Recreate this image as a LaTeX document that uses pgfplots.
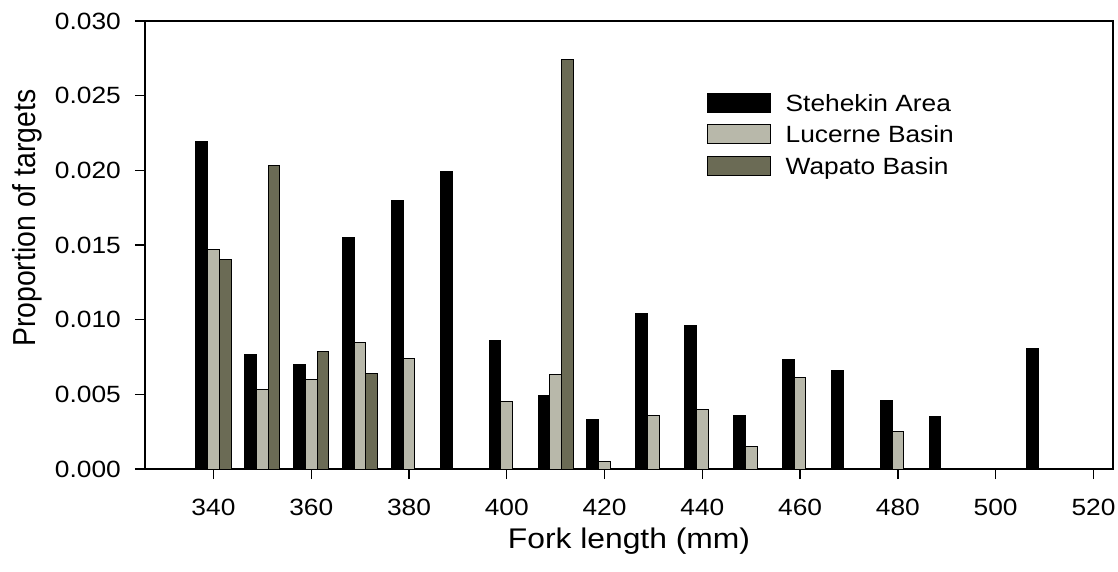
\documentclass[border=0pt]{standalone}
\usepackage{fontspec}
\setmainfont{Liberation Sans}
\usepackage{graphicx}
\usepackage{pgfplots}
\usepackage{pgfplotstable}
\pgfplotsset{compat=1.18}

\definecolor{lucerne}{RGB}{184,184,170}
\definecolor{wapato}{RGB}{107,107,85}
\newcommand{\wide}[1]{\scalebox{1.12}[1]{#1}}

% Proportion of targets per 10 mm fork-length bin
\pgfplotstableread{
len prop
340 0.0219
350 0.0077
360 0.0070
370 0.0155
380 0.0180
390 0.0199
400 0.0086
410 0.0049
420 0.0033
430 0.0104
440 0.0096
450 0.0036
460 0.0073
470 0.0066
480 0.0046
490 0.0035
510 0.0081
}\stehekin
\pgfplotstableread{
len prop
340 0.0147
350 0.0053
360 0.0060
370 0.0085
380 0.0074
400 0.0045
410 0.0063
420 0.0005
430 0.0036
440 0.0040
450 0.0015
460 0.0061
480 0.0025
}\lucerne
\pgfplotstableread{
len prop
340 0.0140
350 0.0203
360 0.0079
370 0.0064
410 0.0274
}\wapato

\begin{document}
\begin{tikzpicture}
\begin{axis}[
  scale only axis, width=968pt, height=448pt,
  xmin=326, xmax=524, ymin=0, ymax=0.030,
  axis line style={line width=1.4pt},
  xtick={340,360,380,400,420,440,460,480,500,520},
  ytick={0,0.005,0.010,0.015,0.020,0.025,0.030},
  scaled y ticks=false,
  tick align=outside, xtick pos=bottom, ytick pos=left,
  major tick length=10pt,
  tick style={line width=1.4pt, black},
  /pgf/number format/assume math mode=true,
  tick label style={font=\fontsize{23.5}{28}\selectfont},
  xticklabel={\wide{\pgfmathprintnumber{\tick}}},
  yticklabel={\wide{\pgfmathprintnumber[fixed,fixed zerofill,precision=3]{\tick}}},
  xticklabel style={inner sep=0pt, anchor=north, yshift=-20pt},
  yticklabel style={inner sep=0pt, anchor=east, xshift=-14pt},
  label style={font=\fontsize{28.4}{34}\selectfont},
  xlabel={\wide{Fork length (mm)}},
  xlabel style={at={(axis description cs:0.5,-0.132)}, anchor=north, inner sep=0pt},
  ylabel={\scalebox{1}[1.12]{Proportion of targets}},
  ylabel style={at={(axis description cs:-0.1374,0.56)}, anchor=north, inner sep=0pt},
  legend style={at={(axis description cs:0.580,0.8404)}, anchor=north west,
    draw=none, fill=none, inner sep=0pt, row sep=11.5pt, column sep=15pt,
    nodes={inner sep=0pt, text height=16.8pt, text depth=0pt,
      font=\fontsize{23.5}{28}\selectfont}},
  legend cell align=left,
  legend image code/.code={\draw[#1, line width=1pt] (0pt,-9.5pt) rectangle (63pt,9.5pt);},
]
\addplot[ybar, bar width=2.4, bar shift=-2.4, fill=black, draw=black, line width=1pt]
  table[x=len, y=prop] {\stehekin};
\addplot[ybar, bar width=2.4, bar shift=0, fill=lucerne, draw=black, line width=1pt]
  table[x=len, y=prop] {\lucerne};
\addplot[ybar, bar width=2.4, bar shift=2.4, fill=wapato, draw=black, line width=1pt]
  table[x=len, y=prop] {\wapato};
\legend{\wide{Stehekin Area}, \wide{Lucerne Basin}, \wide{Wapato Basin}}
\end{axis}
\path ([xshift=-145pt,yshift=-102pt]current axis.south west)
  rectangle ([xshift=5pt,yshift=21pt]current axis.north east);
\end{tikzpicture}
\end{document}
